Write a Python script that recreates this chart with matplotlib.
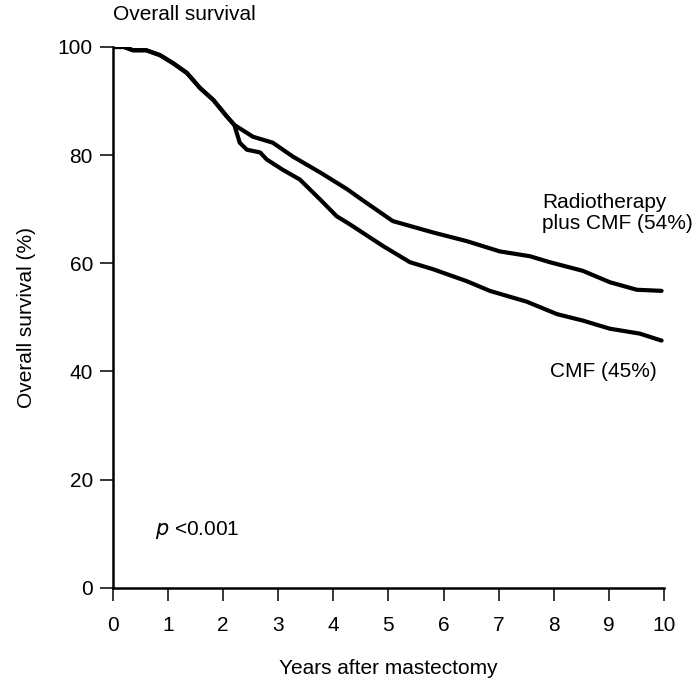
import numpy as np
import matplotlib.pyplot as plt

plt.rcParams['font.family'] = ['Liberation Sans', 'DejaVu Sans']

# shared part of both curves (years, % surviving)
common_t = [0, 0.2, 0.36, 0.6, 0.85, 1.09, 1.34, 1.58, 1.82, 2.07, 2.2]
common_s = [100, 100, 99.4, 99.4, 98.5, 97, 95.2, 92.4, 90.2, 87.1, 85.6]

rt_t = [2.54, 2.9, 3.27, 3.76, 4.25, 4.54, 5.08, 5.81, 6.42, 7.02, 7.57, 7.93, 8.53, 9.02, 9.51, 9.96]
rt_s = [83.4, 82.3, 79.7, 76.8, 73.7, 71.6, 67.8, 65.7, 64.1, 62.2, 61.3, 60.2, 58.6, 56.5, 55.1, 54.9]

cmf_t = [2.3, 2.43, 2.67, 2.79, 3.08, 3.39, 3.76, 4.06, 4.3, 4.9, 5.39, 5.81, 6.42, 6.84, 7.51, 8.06, 8.53, 9.02, 9.56, 9.96]
cmf_s = [82.3, 81, 80.5, 79.2, 77.3, 75.5, 71.8, 68.7, 67.2, 63.2, 60.2, 58.9, 56.7, 54.9, 52.9, 50.6, 49.4, 47.9, 47, 45.7]

fig = plt.figure(figsize=(6.98, 6.81), dpi=100)
ax = fig.add_axes([0.162, 0.137, 0.789, 0.794])

kw = dict(color='black', lw=3.0, solid_capstyle='round', solid_joinstyle='round')
ax.plot(common_t + rt_t, common_s + rt_s, **kw)
ax.plot(common_t + cmf_t, common_s + cmf_s, **kw)

ax.set_xlim(0, 10)
ax.set_ylim(0, 100)
ax.set_xticks(range(0, 11))
ax.set_yticks(range(0, 101, 20))
for s in ['top', 'right']:
    ax.spines[s].set_visible(False)
for s in ['left', 'bottom']:
    ax.spines[s].set_linewidth(1.8)
ax.tick_params(direction='out', length=9.5, width=1.1, labelsize=15)
ax.tick_params(axis='x', pad=11)
ax.tick_params(axis='y', pad=5)

ax.set_xlabel("Years after mastectomy", fontsize=15, labelpad=17)
ax.set_ylabel("Overall survival (%)", fontsize=15, labelpad=16)
fig.text(0.162, 0.978, "Overall survival", fontsize=15, ha='left', va='center')

ax.text(7.79, 69.3, "Radiotherapy\nplus CMF (54%)", fontsize=15, ha='left', va='center', linespacing=1.15)
ax.text(8.91, 39.9, "CMF (45%)", fontsize=15, ha='center', va='center')
ax.text(0.76, 10.7, r"$p$ <0.001", fontsize=15, ha='left', va='center')

fig.savefig("out.png", dpi=100)
